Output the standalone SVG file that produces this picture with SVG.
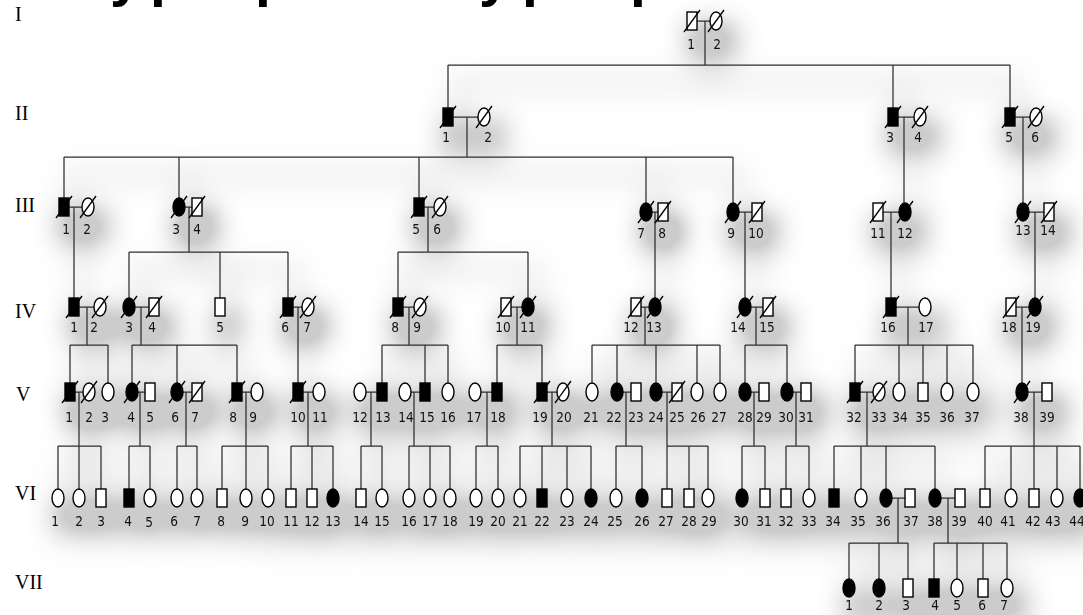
<svg xmlns="http://www.w3.org/2000/svg" xmlns:xlink="http://www.w3.org/1999/xlink" width="1083" height="615" viewBox="0 0 1083 615">
<style>
.cn{fill:none;stroke:#2e2e2e;stroke-width:1.25}
.lb{font-family:"Liberation Sans Narrow","DejaVu Sans Condensed","Arial Narrow",sans-serif;font-size:13.5px;text-anchor:middle;fill:#111}
.gen{font-family:"Liberation Serif","Times New Roman",serif;font-size:20px;fill:#000}
.ttl{font-family:"Liberation Sans",Arial,sans-serif;font-weight:bold;font-size:57px;fill:#000}
</style>
<defs>
<rect id="sq" x="-5" y="-9" width="10" height="18" fill="#fff" stroke="#000" stroke-width="1.4"/>
<rect id="sqF" x="-5" y="-9" width="10" height="18" fill="#000" stroke="#000" stroke-width="1.4"/>
<ellipse id="ci" rx="6" ry="9" fill="#fff" stroke="#000" stroke-width="1.4"/>
<ellipse id="ciF" rx="6" ry="9" fill="#000" stroke="#000" stroke-width="1.4"/>
<line id="sl" x1="-8" y1="11" x2="8" y2="-11" stroke="#000" stroke-width="1.3"/>
<filter id="sh" x="-5%" y="-10%" width="115%" height="135%" color-interpolation-filters="sRGB">
<feGaussianBlur in="SourceAlpha" stdDeviation="15" result="b"/>
<feOffset in="b" dx="8" dy="18" result="o"/>
<feComponentTransfer in="o" result="c"><feFuncA type="linear" slope="5"/></feComponentTransfer>
<feFlood flood-color="#000" flood-opacity="0.2"/>
<feComposite in2="c" operator="in" result="s"/>
<feMerge><feMergeNode in="s"/><feMergeNode in="SourceGraphic"/></feMerge>
</filter>
</defs>
<rect width="1083" height="615" fill="#fff"/>
<text class="ttl" y="-5"><tspan x="110">y</tspan><tspan x="150">p</tspan><tspan x="255">p</tspan><tspan x="479">y</tspan><tspan x="522">p</tspan><tspan x="630">p</tspan></text>
<g id="generations">
<text class="gen" x="15" y="21">I</text>
<text class="gen" x="15" y="120">II</text>
<text class="gen" x="15" y="212">III</text>
<text class="gen" x="15" y="318">IV</text>
<text class="gen" x="16" y="401">V</text>
<text class="gen" x="15" y="500">VI</text>
<text class="gen" x="15" y="589">VII</text>
</g>
<g filter="url(#sh)">
<g id="connectors" class="cn">
<path d="M697 21H710M705 21V65M448 65H1010M448 65V108M893 65V108M1010 65V108"/>
<path d="M453 117H478M467 117V157M898 117H914M904 117V203M1015 117H1030M1023 117V203"/>
<path d="M64 157H733M64 157V198M179 157V198M419 157V198M646 157V203M733 157V203"/>
<path d="M69 207H82M74 207V298M185 207H192M189 207V252M129 252H288M129 252V298M220 252V298M288 252V298M424 207H434M428 207V252M398 252H528M398 252V298M528 252V298"/>
<path d="M652 212H658M655 212V298M739 212H752M745 212V298M883 212H899M891 212V298M1029 212H1044M1035 212V298"/>
<path d="M79 307H94M87 307V345M70 345H108M70 345V383M108 345V383M135 307H149M141 307V345M132 345H237M132 345V383M177 345V383M237 345V383M293 307H302M298 307V383"/>
<path d="M403 307H414M409 307V345M382 345H448M382 345V383M425 345V383M448 345V383M511 307H522M517 307V345M497 345H542M497 345V383M542 345V383"/>
<path d="M641 307H649M645 307V345M592 345H720M592 345V383M617 345V383M656 345V383M697 345V383M720 345V383M751 307H763M756 307V345M745 345H787M745 345V383M787 345V383"/>
<path d="M896 307H919M908 307V345M855 345H973M855 345V383M899 345V383M923 345V383M947 345V383M973 345V383M1016 307H1029M1022 307V383"/>
<path d="M75 392H83M79 392V446M58 446H101M58 446V489M79 446V489M101 446V489M138 392H145M140 392V446M129 446H150M129 446V489M150 446V489M183 392H192M186 392V446M177 446H197M177 446V489M197 446V489"/>
<path d="M242 392H251M246 392V446M222 446H268M222 446V489M246 446V489M268 446V489M303 392H313M308 392V446M291 446H333M291 446V489M312 446V489M333 446V489"/>
<path d="M366 392H377M371 392V446M361 446H382M361 446V489M382 446V489M411 392H420M414 392V446M409 446H450M409 446V489M430 446V489M450 446V489M481 392H492M487 392V446M476 446H498M476 446V489M498 446V489"/>
<path d="M547 392H557M552 392V446M520 446H591M520 446V489M542 446V489M567 446V489M591 446V489M623 392H631M626 392V446M616 446H642M616 446V489M642 446V489M662 392H672M667 392V446M667 446H708M667 446V489M689 446V489M708 446V489"/>
<path d="M751 392H759M754 392V446M742 446H765M742 446V489M765 446V489M793 392H801M796 392V446M786 446H809M786 446V489M809 446V489"/>
<path d="M860 392H873M867 392V446M834 446H935M834 446V489M861 446V489M886 446V489M935 446V489M1028 392H1042M1034 392V446M985 446H1080M985 446V489M1011 446V489M1034 446V489M1057 446V489M1080 446V489"/>
<path d="M892 498H905M898 498V543M849 543H908M849 543V579M879 543V579M908 543V579M941 498H955M948 498V543M934 543H1007M934 543V579M957 543V579M983 543V579M1007 543V579"/>
</g>
<g id="gen-I">
<g id="I-1" transform="translate(692,21)"><use href="#sq"/><use href="#sl"/><text class="lb" x="-1" y="28">1</text></g>
<g id="I-2" transform="translate(716,21)"><use href="#ci"/><use href="#sl"/><text class="lb" x="1" y="28">2</text></g>
</g>
<g id="gen-II">
<g id="II-1" transform="translate(448,117)"><use href="#sqF"/><use href="#sl"/><text class="lb" x="-2" y="24.5">1</text></g>
<g id="II-2" transform="translate(484,117)"><use href="#ci"/><use href="#sl"/><text class="lb" x="4" y="24.5">2</text></g>
<g id="II-3" transform="translate(893,117)"><use href="#sqF"/><use href="#sl"/><text class="lb" x="-3" y="24.5">3</text></g>
<g id="II-4" transform="translate(920,117)"><use href="#ci"/><use href="#sl"/><text class="lb" x="-2" y="24.5">4</text></g>
<g id="II-5" transform="translate(1010,117)"><use href="#sqF"/><use href="#sl"/><text class="lb" x="-1" y="24.5">5</text></g>
<g id="II-6" transform="translate(1036,117)"><use href="#ci"/><use href="#sl"/><text class="lb" x="-1" y="24.5">6</text></g>
</g>
<g id="gen-III">
<g id="III-1" transform="translate(64,207)"><use href="#sqF"/><use href="#sl"/><text class="lb" x="2" y="26.5">1</text></g>
<g id="III-2" transform="translate(88,207)"><use href="#ci"/><use href="#sl"/><text class="lb" x="-1" y="26.5">2</text></g>
<g id="III-3" transform="translate(179,207)"><use href="#ciF"/><use href="#sl"/><text class="lb" x="-3" y="26.5">3</text></g>
<g id="III-4" transform="translate(197,207)"><use href="#sq"/><use href="#sl"/><text class="lb" x="0" y="26.5">4</text></g>
<g id="III-5" transform="translate(419,207)"><use href="#sqF"/><use href="#sl"/><text class="lb" x="-3" y="26.5">5</text></g>
<g id="III-6" transform="translate(440,207)"><use href="#ci"/><use href="#sl"/><text class="lb" x="-3" y="26.5">6</text></g>
<g id="III-7" transform="translate(646,212)"><use href="#ciF"/><use href="#sl"/><text class="lb" x="-5" y="25.5">7</text></g>
<g id="III-8" transform="translate(663,212)"><use href="#sq"/><use href="#sl"/><text class="lb" x="-1" y="25.5">8</text></g>
<g id="III-9" transform="translate(733,212)"><use href="#ciF"/><use href="#sl"/><text class="lb" x="-2" y="25.5">9</text></g>
<g id="III-10" transform="translate(757,212)"><use href="#sq"/><use href="#sl"/><text class="lb" x="-1" y="25.5">10</text></g>
<g id="III-11" transform="translate(878,212)"><use href="#sq"/><use href="#sl"/><text class="lb" x="0" y="25.5">11</text></g>
<g id="III-12" transform="translate(905,212)"><use href="#ciF"/><use href="#sl"/><text class="lb" x="0" y="25.5">12</text></g>
<g id="III-13" transform="translate(1023,212)"><use href="#ciF"/><use href="#sl"/><text class="lb" x="0" y="22.5">13</text></g>
<g id="III-14" transform="translate(1049,212)"><use href="#sq"/><use href="#sl"/><text class="lb" x="-1" y="22.5">14</text></g>
</g>
<g id="gen-IV">
<g id="IV-1" transform="translate(74,307)"><use href="#sqF"/><use href="#sl"/><text class="lb" x="0" y="24.5">1</text></g>
<g id="IV-2" transform="translate(100,307)"><use href="#ci"/><use href="#sl"/><text class="lb" x="-6" y="24.5">2</text></g>
<g id="IV-3" transform="translate(129,307)"><use href="#ciF"/><use href="#sl"/><text class="lb" x="0" y="24.5">3</text></g>
<g id="IV-4" transform="translate(154,307)"><use href="#sq"/><use href="#sl"/><text class="lb" x="-2" y="24.5">4</text></g>
<g id="IV-5" transform="translate(220,307)"><use href="#sq"/><text class="lb" x="0" y="24.5">5</text></g>
<g id="IV-6" transform="translate(288,307)"><use href="#sqF"/><use href="#sl"/><text class="lb" x="-3" y="24.5">6</text></g>
<g id="IV-7" transform="translate(308,307)"><use href="#ci"/><use href="#sl"/><text class="lb" x="-1" y="24.5">7</text></g>
<g id="IV-8" transform="translate(398,307)"><use href="#sqF"/><use href="#sl"/><text class="lb" x="-3" y="24.5">8</text></g>
<g id="IV-9" transform="translate(420,307)"><use href="#ci"/><use href="#sl"/><text class="lb" x="-3" y="24.5">9</text></g>
<g id="IV-10" transform="translate(506,307)"><use href="#sq"/><use href="#sl"/><text class="lb" x="-3" y="24.5">10</text></g>
<g id="IV-11" transform="translate(528,307)"><use href="#ciF"/><use href="#sl"/><text class="lb" x="0" y="24.5">11</text></g>
<g id="IV-12" transform="translate(636,307)"><use href="#sq"/><use href="#sl"/><text class="lb" x="-5" y="24.5">12</text></g>
<g id="IV-13" transform="translate(655,307)"><use href="#ciF"/><use href="#sl"/><text class="lb" x="-1" y="24.5">13</text></g>
<g id="IV-14" transform="translate(745,307)"><use href="#ciF"/><use href="#sl"/><text class="lb" x="-7" y="24.5">14</text></g>
<g id="IV-15" transform="translate(768,307)"><use href="#sq"/><use href="#sl"/><text class="lb" x="-1" y="24.5">15</text></g>
<g id="IV-16" transform="translate(891,307)"><use href="#sqF"/><use href="#sl"/><text class="lb" x="-3" y="24.5">16</text></g>
<g id="IV-17" transform="translate(925,307)"><use href="#ci"/><text class="lb" x="1" y="24.5">17</text></g>
<g id="IV-18" transform="translate(1011,307)"><use href="#sq"/><use href="#sl"/><text class="lb" x="-2" y="24.5">18</text></g>
<g id="IV-19" transform="translate(1035,307)"><use href="#ciF"/><use href="#sl"/><text class="lb" x="-2" y="24.5">19</text></g>
</g>
<g id="gen-V">
<g id="V-1" transform="translate(70,392)"><use href="#sqF"/><use href="#sl"/><text class="lb" x="-1" y="29.5">1</text></g>
<g id="V-2" transform="translate(89,392)"><use href="#ci"/><use href="#sl"/><text class="lb" x="0" y="29.5">2</text></g>
<g id="V-3" transform="translate(108,392)"><use href="#ci"/><text class="lb" x="-3" y="29.5">3</text></g>
<g id="V-4" transform="translate(132,392)"><use href="#ciF"/><use href="#sl"/><text class="lb" x="-1" y="29.5">4</text></g>
<g id="V-5" transform="translate(150,392)"><use href="#sq"/><text class="lb" x="0" y="29.5">5</text></g>
<g id="V-6" transform="translate(177,392)"><use href="#ciF"/><use href="#sl"/><text class="lb" x="-2" y="29.5">6</text></g>
<g id="V-7" transform="translate(197,392)"><use href="#sq"/><use href="#sl"/><text class="lb" x="-2" y="29.5">7</text></g>
<g id="V-8" transform="translate(237,392)"><use href="#sqF"/><use href="#sl"/><text class="lb" x="-4" y="29.5">8</text></g>
<g id="V-9" transform="translate(257,392)"><use href="#ci"/><text class="lb" x="-4" y="29.5">9</text></g>
<g id="V-10" transform="translate(298,392)"><use href="#sqF"/><use href="#sl"/><text class="lb" x="0" y="29.5">10</text></g>
<g id="V-11" transform="translate(319,392)"><use href="#ci"/><text class="lb" x="1" y="29.5">11</text></g>
<g id="V-12" transform="translate(360,392)"><use href="#ci"/><text class="lb" x="0" y="29.5">12</text></g>
<g id="V-13" transform="translate(382,392)"><use href="#sqF"/><text class="lb" x="1" y="29.5">13</text></g>
<g id="V-14" transform="translate(405,392)"><use href="#ci"/><text class="lb" x="1" y="29.5">14</text></g>
<g id="V-15" transform="translate(425,392)"><use href="#sqF"/><text class="lb" x="2" y="29.5">15</text></g>
<g id="V-16" transform="translate(448,392)"><use href="#ci"/><text class="lb" x="0" y="29.5">16</text></g>
<g id="V-17" transform="translate(475,392)"><use href="#ci"/><text class="lb" x="-1" y="29.5">17</text></g>
<g id="V-18" transform="translate(497,392)"><use href="#sqF"/><text class="lb" x="1" y="29.5">18</text></g>
<g id="V-19" transform="translate(542,392)"><use href="#sqF"/><use href="#sl"/><text class="lb" x="-2" y="29.5">19</text></g>
<g id="V-20" transform="translate(563,392)"><use href="#ci"/><use href="#sl"/><text class="lb" x="1" y="29.5">20</text></g>
<g id="V-21" transform="translate(592,392)"><use href="#ci"/><text class="lb" x="-1" y="29.5">21</text></g>
<g id="V-22" transform="translate(617,392)"><use href="#ciF"/><text class="lb" x="-3" y="29.5">22</text></g>
<g id="V-23" transform="translate(636,392)"><use href="#sq"/><text class="lb" x="0" y="29.5">23</text></g>
<g id="V-24" transform="translate(656,392)"><use href="#ciF"/><text class="lb" x="0" y="29.5">24</text></g>
<g id="V-25" transform="translate(677,392)"><use href="#sq"/><use href="#sl"/><text class="lb" x="0" y="29.5">25</text></g>
<g id="V-26" transform="translate(697,392)"><use href="#ci"/><text class="lb" x="1" y="29.5">26</text></g>
<g id="V-27" transform="translate(720,392)"><use href="#ci"/><text class="lb" x="-1" y="29.5">27</text></g>
<g id="V-28" transform="translate(745,392)"><use href="#ciF"/><text class="lb" x="0" y="29.5">28</text></g>
<g id="V-29" transform="translate(764,392)"><use href="#sq"/><text class="lb" x="0" y="29.5">29</text></g>
<g id="V-30" transform="translate(787,392)"><use href="#ciF"/><text class="lb" x="-1" y="29.5">30</text></g>
<g id="V-31" transform="translate(806,392)"><use href="#sq"/><text class="lb" x="0" y="29.5">31</text></g>
<g id="V-32" transform="translate(855,392)"><use href="#sqF"/><use href="#sl"/><text class="lb" x="-1" y="29.5">32</text></g>
<g id="V-33" transform="translate(879,392)"><use href="#ci"/><use href="#sl"/><text class="lb" x="0" y="29.5">33</text></g>
<g id="V-34" transform="translate(899,392)"><use href="#ci"/><text class="lb" x="1" y="29.5">34</text></g>
<g id="V-35" transform="translate(923,392)"><use href="#sq"/><text class="lb" x="0" y="29.5">35</text></g>
<g id="V-36" transform="translate(947,392)"><use href="#ci"/><text class="lb" x="0" y="29.5">36</text></g>
<g id="V-37" transform="translate(973,392)"><use href="#ci"/><text class="lb" x="-1" y="29.5">37</text></g>
<g id="V-38" transform="translate(1022,392)"><use href="#ciF"/><use href="#sl"/><text class="lb" x="-1" y="29.5">38</text></g>
<g id="V-39" transform="translate(1047,392)"><use href="#sq"/><text class="lb" x="0" y="29.5">39</text></g>
</g>
<g id="gen-VI">
<g id="VI-1" transform="translate(58,498)"><use href="#ci"/><text class="lb" x="-3" y="27.5">1</text></g>
<g id="VI-2" transform="translate(79,498)"><use href="#ci"/><text class="lb" x="0" y="27.5">2</text></g>
<g id="VI-3" transform="translate(101,498)"><use href="#sq"/><text class="lb" x="0" y="27.5">3</text></g>
<g id="VI-4" transform="translate(129,498)"><use href="#sqF"/><text class="lb" x="-1" y="27.5">4</text></g>
<g id="VI-5" transform="translate(150,498)"><use href="#ci"/><text class="lb" x="-1" y="28.5">5</text></g>
<g id="VI-6" transform="translate(177,498)"><use href="#ci"/><text class="lb" x="-3" y="27.5">6</text></g>
<g id="VI-7" transform="translate(197,498)"><use href="#ci"/><text class="lb" x="0" y="27.5">7</text></g>
<g id="VI-8" transform="translate(222,498)"><use href="#sq"/><text class="lb" x="-1" y="27.5">8</text></g>
<g id="VI-9" transform="translate(246,498)"><use href="#ci"/><text class="lb" x="-1" y="27.5">9</text></g>
<g id="VI-10" transform="translate(268,498)"><use href="#ci"/><text class="lb" x="-1" y="27.5">10</text></g>
<g id="VI-11" transform="translate(291,498)"><use href="#sq"/><text class="lb" x="0" y="27.5">11</text></g>
<g id="VI-12" transform="translate(312,498)"><use href="#sq"/><text class="lb" x="0" y="27.5">12</text></g>
<g id="VI-13" transform="translate(333,498)"><use href="#ciF"/><text class="lb" x="0" y="27.5">13</text></g>
<g id="VI-14" transform="translate(361,498)"><use href="#sq"/><text class="lb" x="0" y="27.5">14</text></g>
<g id="VI-15" transform="translate(382,498)"><use href="#ci"/><text class="lb" x="0" y="27.5">15</text></g>
<g id="VI-16" transform="translate(409,498)"><use href="#ci"/><text class="lb" x="0" y="27.5">16</text></g>
<g id="VI-17" transform="translate(430,498)"><use href="#ci"/><text class="lb" x="0" y="27.5">17</text></g>
<g id="VI-18" transform="translate(450,498)"><use href="#ci"/><text class="lb" x="0" y="27.5">18</text></g>
<g id="VI-19" transform="translate(476,498)"><use href="#ci"/><text class="lb" x="0" y="27.5">19</text></g>
<g id="VI-20" transform="translate(498,498)"><use href="#ci"/><text class="lb" x="0" y="27.5">20</text></g>
<g id="VI-21" transform="translate(520,498)"><use href="#ci"/><text class="lb" x="0" y="27.5">21</text></g>
<g id="VI-22" transform="translate(542,498)"><use href="#sqF"/><text class="lb" x="0" y="27.5">22</text></g>
<g id="VI-23" transform="translate(567,498)"><use href="#ci"/><text class="lb" x="0" y="27.5">23</text></g>
<g id="VI-24" transform="translate(591,498)"><use href="#ciF"/><text class="lb" x="0" y="27.5">24</text></g>
<g id="VI-25" transform="translate(616,498)"><use href="#ci"/><text class="lb" x="-1" y="27.5">25</text></g>
<g id="VI-26" transform="translate(642,498)"><use href="#ciF"/><text class="lb" x="0" y="27.5">26</text></g>
<g id="VI-27" transform="translate(667,498)"><use href="#sq"/><text class="lb" x="-1" y="27.5">27</text></g>
<g id="VI-28" transform="translate(689,498)"><use href="#sq"/><text class="lb" x="0" y="27.5">28</text></g>
<g id="VI-29" transform="translate(708,498)"><use href="#ci"/><text class="lb" x="1" y="27.5">29</text></g>
<g id="VI-30" transform="translate(742,498)"><use href="#ciF"/><text class="lb" x="-1" y="27.5">30</text></g>
<g id="VI-31" transform="translate(765,498)"><use href="#sq"/><text class="lb" x="-1" y="27.5">31</text></g>
<g id="VI-32" transform="translate(786,498)"><use href="#sq"/><text class="lb" x="0" y="27.5">32</text></g>
<g id="VI-33" transform="translate(809,498)"><use href="#ci"/><text class="lb" x="0" y="27.5">33</text></g>
<g id="VI-34" transform="translate(834,498)"><use href="#sqF"/><text class="lb" x="-1" y="27.5">34</text></g>
<g id="VI-35" transform="translate(861,498)"><use href="#ci"/><text class="lb" x="-3" y="27.5">35</text></g>
<g id="VI-36" transform="translate(886,498)"><use href="#ciF"/><text class="lb" x="-3" y="27.5">36</text></g>
<g id="VI-37" transform="translate(910,498)"><use href="#sq"/><text class="lb" x="1" y="27.5">37</text></g>
<g id="VI-38" transform="translate(935,498)"><use href="#ciF"/><text class="lb" x="0" y="27.5">38</text></g>
<g id="VI-39" transform="translate(960,498)"><use href="#sq"/><text class="lb" x="-1" y="27.5">39</text></g>
<g id="VI-40" transform="translate(985,498)"><use href="#sq"/><text class="lb" x="0" y="27.5">40</text></g>
<g id="VI-41" transform="translate(1011,498)"><use href="#ci"/><text class="lb" x="-3" y="27.5">41</text></g>
<g id="VI-42" transform="translate(1034,498)"><use href="#sq"/><text class="lb" x="-1" y="27.5">42</text></g>
<g id="VI-43" transform="translate(1057,498)"><use href="#ci"/><text class="lb" x="-4" y="27.5">43</text></g>
<g id="VI-44" transform="translate(1080,498)"><use href="#ciF"/><text class="lb" x="-3" y="27.5">44</text></g>
</g>
<g id="gen-VII">
<g id="VII-1" transform="translate(849,588)"><use href="#ciF"/><text class="lb" x="0" y="22">1</text></g>
<g id="VII-2" transform="translate(879,588)"><use href="#ciF"/><text class="lb" x="0" y="22">2</text></g>
<g id="VII-3" transform="translate(908,588)"><use href="#sq"/><text class="lb" x="-2" y="22">3</text></g>
<g id="VII-4" transform="translate(934,588)"><use href="#sqF"/><text class="lb" x="1" y="22">4</text></g>
<g id="VII-5" transform="translate(957,588)"><use href="#ci"/><text class="lb" x="0" y="22">5</text></g>
<g id="VII-6" transform="translate(983,588)"><use href="#sq"/><text class="lb" x="-1" y="22">6</text></g>
<g id="VII-7" transform="translate(1007,588)"><use href="#ci"/><text class="lb" x="-3" y="22">7</text></g>
</g>
</g>
</svg>
